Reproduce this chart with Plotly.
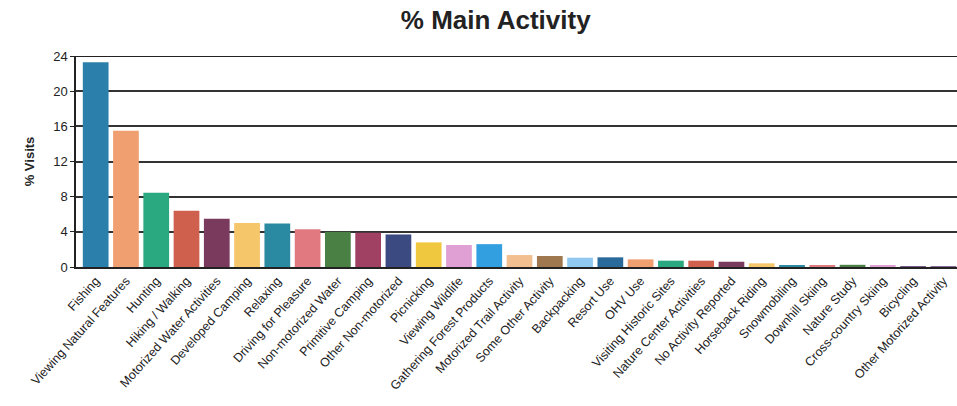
import plotly.graph_objects as go

categories = ["Fishing", "Viewing Natural Features", "Hunting", "Hiking / Walking",
              "Motorized Water Activities", "Developed Camping", "Relaxing",
              "Driving for Pleasure", "Non-motorized Water", "Primitive Camping",
              "Other Non-motorized", "Picnicking", "Viewing Wildlife",
              "Gathering Forest Products", "Motorized Trail Activity", "Some Other Activity",
              "Backpacking", "Resort Use", "OHV Use", "Visiting Historic Sites",
              "Nature Center Activities", "No Activity Reported", "Horseback Riding",
              "Snowmobiling", "Downhill Skiing", "Nature Study", "Cross-country Skiing",
              "Bicycling", "Other Motorized Activity"]

values = [23.3, 15.5, 8.45, 6.4, 5.5, 5.0, 4.95, 4.3, 4.0, 3.9,
          3.7, 2.8, 2.5, 2.6, 1.36, 1.25, 1.06, 1.1, 0.87, 0.72,
          0.72, 0.6, 0.42, 0.23, 0.22, 0.25, 0.15, 0.1, 0.05]

colors = ["#2a80aa", "#f0a070", "#2aa880", "#d0604e", "#7a3a5e", "#f5c66a", "#2a8aa2",
          "#e07a80", "#4a8044", "#a04062", "#3c4a82", "#f0c840", "#e0a0d4", "#32a0e0",
          "#f2c090", "#a07850", "#90c8f0", "#2a6a9a", "#f0a070", "#2aa880", "#d0604e",
          "#7a3a5e", "#f5c66a", "#2a8aa2", "#e07a80", "#4a8044", "#e0a0d4", "#7a5a8a",
          "#8a6a9a"]

y_ticks = [0, 4, 8, 12, 16, 20, 24]

fig = go.Figure(go.Bar(x=categories, y=values, marker=dict(color=colors, line=dict(width=0)),
                       hoverinfo="x+y"))

fig.update_layout(
    width=957, height=406,
    margin=dict(l=76, r=0, t=56, b=139),
    paper_bgcolor="white", plot_bgcolor="white",
    bargap=0.15,
    showlegend=False,
    title=dict(text="<b>% Main Activity</b>", x=0.518, xanchor="center", y=0.95, yanchor="middle",
               font=dict(family="Liberation Sans, Arial", size=26, color="#222")),
    font=dict(family="Liberation Sans, Arial", color="#222"),
)

fig.update_yaxes(
    range=[0, 24], tickvals=y_ticks, ticktext=[str(v) for v in y_ticks],
    showgrid=True, gridcolor="#333", gridwidth=1.8,
    showline=True, linecolor="#222", linewidth=1.5, mirror=False,
    ticks="outside", ticklen=4, tickcolor="#222",
    tickfont=dict(size=13, color="#222"),
    title=dict(text="<b>% Visits</b>", font=dict(size=13, color="#222"), standoff=16),
    zeroline=False,
)

fig.update_xaxes(
    tickangle=-48, tickfont=dict(size=12.5, color="#222"),
    showline=True, linecolor="#222", linewidth=1.5,
    showgrid=False, ticks="",
    range=[-0.65, len(categories) - 0.55],
)

fig.add_shape(type="line", xref="paper", yref="y", x0=0, x1=1, y0=24, y1=24,
              line=dict(color="#222", width=2))

fig.write_html("out.html")
